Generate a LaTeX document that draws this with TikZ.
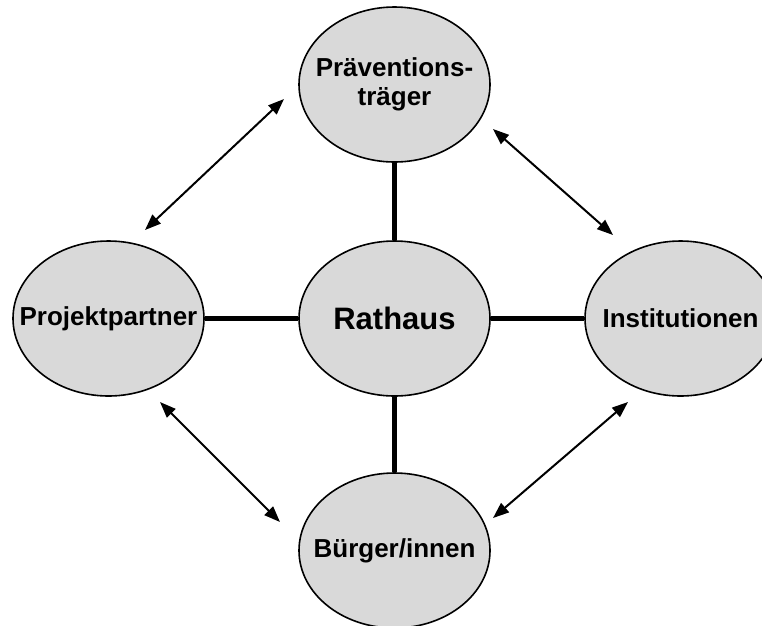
\documentclass[tikz,border=0pt]{standalone}
\usepackage{fontspec}
\setmainfont{Liberation Sans}
\usetikzlibrary{shapes.geometric,arrows.meta}
\definecolor{blobgray}{HTML}{D9D9D9}
\tikzset{
  blob/.style={ellipse, draw=black, line width=1.6pt, fill=blobgray,
    minimum width=191pt, minimum height=155pt, inner sep=0pt,
    font=\bfseries\fontsize{26}{30}\selectfont},
  spoke/.style={line width=5pt},
  rel/.style={line width=2pt, {Triangle[length=16pt,width=12pt]}-{Triangle[length=16pt,width=12pt]}}
}
\newcommand{\zw}[1]{\makebox[0pt]{#1}}
\begin{document}
\begin{tikzpicture}[x=1pt,y=-1pt]
\useasboundingbox (0,0) rectangle (762,625);
\clip (0,0) rectangle (762,625);
\node[blob] (top) at (394.5,84.5) {\zw{\begin{tabular}{@{}c@{}}Präventions-\\[-1pt]träger\end{tabular}}};
\node[blob, font=\bfseries\fontsize{31}{36}\selectfont] (mid) at (394.5,318.5) {\zw{Rathaus}};
\node[blob] (left) at (108.5,318.5) {\zw{Projektpartner}};
\node[blob] (right) at (680.5,318.5) {\zw{Institutionen}};
\node[blob] (bot) at (394.5,550.5) {\zw{Bürger/innen}};
\draw[spoke] (mid) -- (top);
\draw[spoke] (mid) -- (left);
\draw[spoke] (mid) -- (right);
\draw[spoke] (mid) -- (bot);
\coordinate (a1) at (284,99);  \coordinate (b1) at (145,230);
\coordinate (a2) at (493,129); \coordinate (b2) at (613,235);
\coordinate (a3) at (160,402); \coordinate (b3) at (280,522);
\coordinate (a4) at (628,402); \coordinate (b4) at (493,518);
\draw[rel] (a1) -- (b1);
\draw[rel] (a2) -- (b2);
\draw[rel] (a3) -- (b3);
\draw[rel] (a4) -- (b4);
\end{tikzpicture}
\end{document}
